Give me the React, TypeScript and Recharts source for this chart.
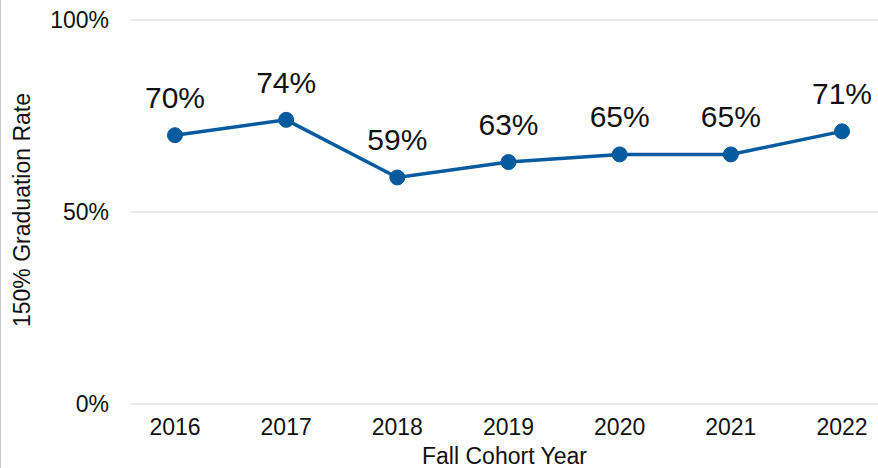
// Graduation rate trend line chart

import { LineChart, Line, XAxis, YAxis, CartesianGrid, LabelList, Label } from 'recharts';

const COHORT_YEARS = ['2016', '2017', '2018', '2019', '2020', '2021', '2022'];
const GRAD_RATES = [70, 74, 59, 63, 65, 65, 71];
const Y_TICKS = [0, 50, 100];

const LINE_COLOR = '#065a9e';
const FONT = '"Liberation Sans", Arial, sans-serif';

const data = COHORT_YEARS.map((year, i) => ({ year, rate: GRAD_RATES[i] }));

export default function App() {
  return (
    <div style={{ position: 'absolute', left: 0, top: 0, width: 878, height: 468, background: '#fff' }}>
      {/* thin frame line on the left edge */}
      <div style={{ position: 'absolute', left: 0, top: 0, width: 1, height: 468, background: '#c8c8c8' }} />
      <LineChart
        width={878}
        height={468}
        data={data}
        margin={{ top: 20, right: 0, bottom: 0, left: 0 }}
        style={{ fontFamily: FONT }}
      >
        <CartesianGrid vertical={false} stroke="#e3e3e3" strokeWidth={1.5} />
        <XAxis
          dataKey="year"
          height={64}
          axisLine={false}
          tickLine={false}
          tickSize={7}
          tickMargin={8}
          padding={{ left: 44, right: 36 }}
          tick={{ fill: '#111', fontSize: 23, fontFamily: FONT }}
        >
          <Label
            value="Fall Cohort Year"
            position="insideBottom"
            offset={4}
            style={{ fill: '#111', fontSize: 23, fontFamily: FONT }}
          />
        </XAxis>
        <YAxis
          width={131}
          domain={[0, 100]}
          ticks={Y_TICKS}
          axisLine={false}
          tickLine={false}
          tickSize={10}
          tickMargin={12}
          tickFormatter={(v) => `${v}%`}
          tick={{ fill: '#111', fontSize: 23, fontFamily: FONT }}
        >
          <Label
            content={() => (
              <text
                transform="translate(30,210) rotate(-90)"
                textAnchor="middle"
                fill="#111"
                fontSize={23}
                fontFamily={FONT}
              >
                150% Graduation Rate
              </text>
            )}
          />
        </YAxis>
        <Line
          type="linear"
          dataKey="rate"
          stroke={LINE_COLOR}
          strokeWidth={3.5}
          dot={{ r: 7.5, fill: LINE_COLOR, stroke: LINE_COLOR, strokeWidth: 1 }}
          isAnimationActive={false}
        >
          <LabelList
            dataKey="rate"
            position="top"
            offset={27}
            formatter={(v: number) => `${v}%`}
            style={{ fill: '#111', fontSize: 30, fontFamily: FONT }}
          />
        </Line>
      </LineChart>
    </div>
  );
}
